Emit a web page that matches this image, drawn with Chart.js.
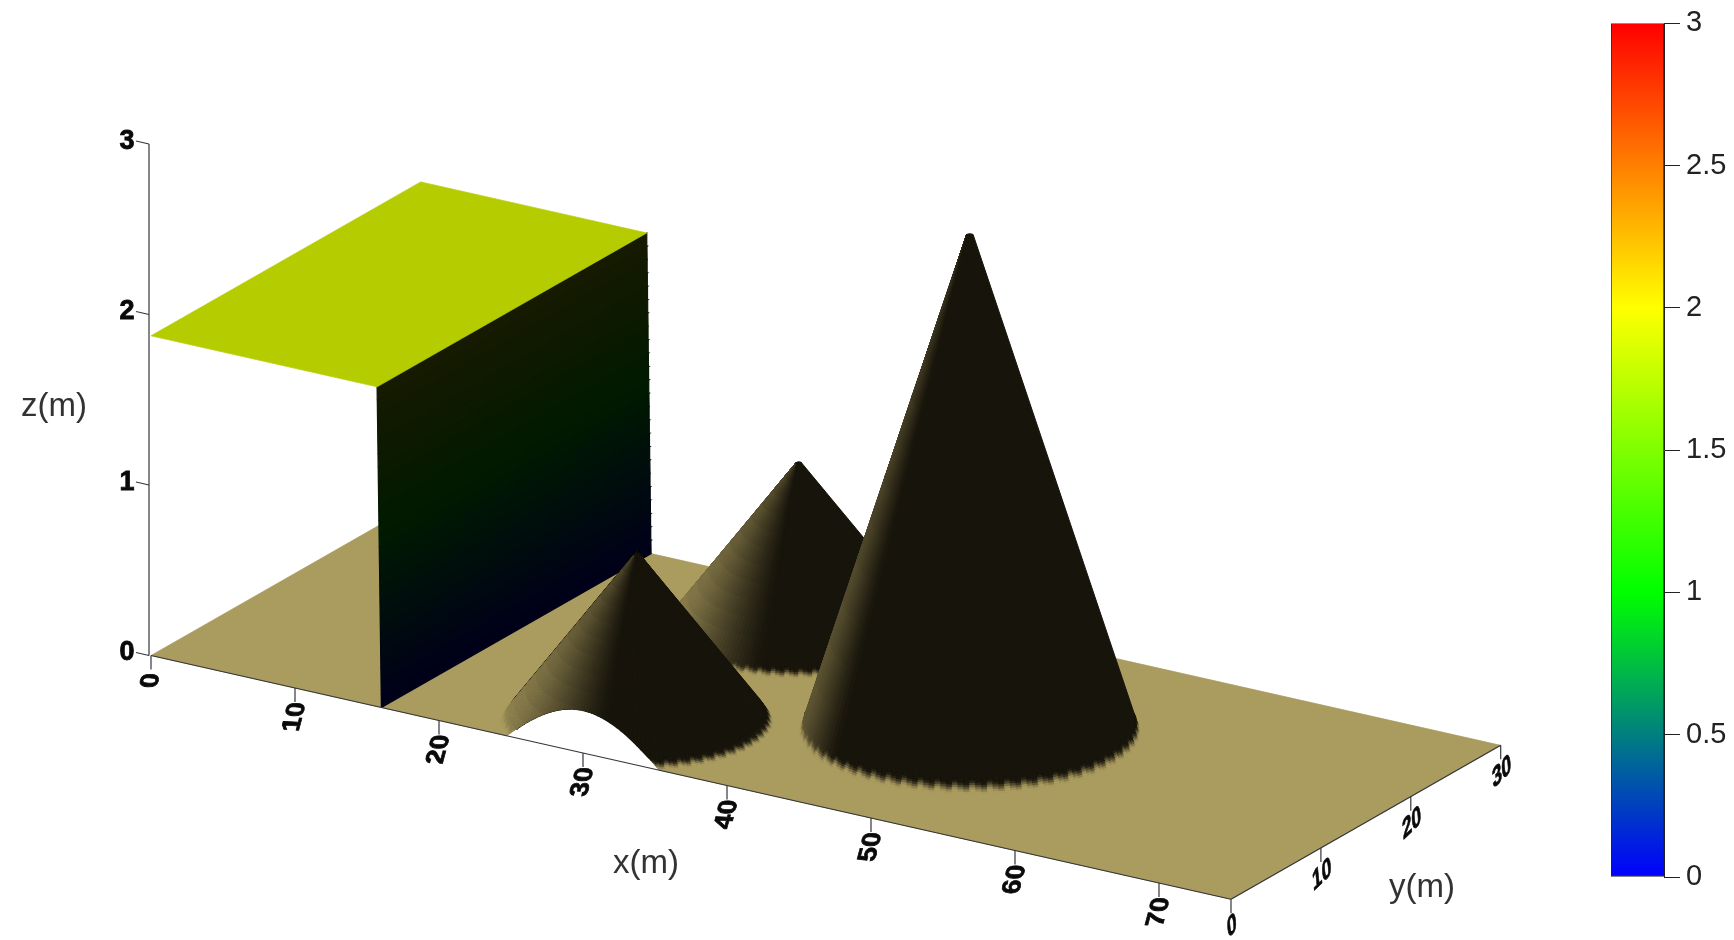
<!DOCTYPE html>
<html>
<head>
<meta charset="utf-8">
<style>
    html, body { margin: 0; padding: 0; background: #fff; overflow: hidden; }
    #main { position: absolute; left: 0; top: 0; width: 1734px; height: 940px; }
    #bar  { position: absolute; left: 1600px; top: 0; width: 134px; height: 940px; }
</style>
<script src="https://cdn.jsdelivr.net/npm/chart.js@4"></script>
</head>
<body>
<div id="main"><canvas id="surface"></canvas></div>
<div id="bar"><canvas id="colorbar"></canvas></div>
<script>
/* ─── values ──────────────────────────────────────────────────── */
const xTicks  = [0, 10, 20, 30, 40, 50, 60, 70];
const yTicks  = [0, 10, 20, 30];
const zTicks  = [0, 1, 2, 3];
const xMax    = 75;
const yMax    = 30;

const damFoot  = 16;      /* x of the wall where it meets the floor */
const damTop   = 15.7;    /* x of the wall at the plate */
const damLevel = 1.875;

const bumpX = [30, 30, 47.5];
const bumpY = [24, 6, 15];   /* far one first, they are painted in this order */
const bumpR = [8, 8, 10];
const bumpH = [1, 1, 2.98];

const barTicks  = [0, 0.5, 1, 1.5, 2, 2.5, 3];
const barStops  = [0, 1, 2, 3];
const barColors = ['#0000ff', '#00ff00', '#ffff00', '#ff0000'];

/* ─── view ────────────────────────────────────────────────────── */
const ORIGIN = { x: 151, y: 655.5 };
const UX = { x: 14.4, y: 3.25 };
const UY = { x: 8.99, y: -5.13 };
const UZ = { x: 0, y: -170.5 };

const project = (x, y, z) => ({
    x: ORIGIN.x + x * UX.x + y * UY.x + z * UZ.x,
    y: ORIGIN.y + x * UX.y + y * UY.y + z * UZ.y,
});

/* ─── colours ─────────────────────────────────────────────────── */
const FLOOR = [170, 155, 95];
const DARK  = [23, 20, 11];
const PLATE = '#b5cc00';
const AXIS  = '#33363c';

const rgb = c => `rgb(${c.map(v => Math.round(v)).join(',')})`;
const mix = (a, b, t) => a.map((v, i) => v + (b[i] - v) * t);

function colorMap(z) {
    const rgbStops = [[0, 0, 255], [0, 255, 0], [255, 255, 0], [255, 0, 0]];
    const k = Math.min(2, Math.floor(z));
    return mix(rgbStops[k], rgbStops[k + 1], z - k);
}

/* ─── polygons → datasets ─────────────────────────────────────── */
const datasets = [];

function addPoly(points, color, edge = 1) {
    const data = points.map(p => project(p[0], p[1], p[2]));
    data.push(data[0]);
    datasets.push({
        data, showLine: true, fill: 'shape', pointRadius: 0,
        backgroundColor: color, borderColor: color, borderWidth: edge,
    });
}

function addLine(a, b) {
    datasets.push({
        data: [a, b], showLine: true, fill: false, pointRadius: 0,
        borderColor: AXIS, borderWidth: 1.2,
    });
}

/* keep the part of a facet that lies on the y >= 0 side of the domain */
function clipToDomain(poly) {
    const out = [];
    poly.forEach((p, i) => {
        const q = poly[(i + 1) % poly.length];
        if (p[1] >= 0) out.push(p);
        if ((p[1] >= 0) !== (q[1] >= 0)) {
            const t = p[1] / (p[1] - q[1]);
            out.push([p[0] + (q[0] - p[0]) * t, 0, p[2] + (q[2] - p[2]) * t]);
        }
    });
    return out;
}

/* ── Floor, with the foot of the cut bump left open ──────────────── */
function addFloor() {
    const cx = bumpX[1], cy = bumpY[1], r = bumpR[1];
    const half = Math.sqrt(r * r - cy * cy);
    const start = Math.atan2(-cy, -half);
    const end = Math.atan2(-cy, half);
    const pts = [[0, 0, 0]];
    const steps = 60;
    const sweep = (end - start + Math.PI * 2) % (Math.PI * 2) - Math.PI * 2;
    for (let i = 0; i <= steps; i++) {
        const a = start + sweep * i / steps;
        pts.push([cx + r * Math.cos(a), cy + r * Math.sin(a), 0]);
    }
    pts.push([xMax, 0, 0], [xMax, yMax, 0], [0, yMax, 0]);
    addPoly(pts, rgb(FLOOR), 0.7);
}

/* ── Wall and the water plate behind it ──────────────────────────── */
function addDam() {
    const bands = 24;
    for (let i = 0; i < bands; i++) {
        const z0 = damLevel * i / bands, z1 = damLevel * (i + 1) / bands;
        const x0 = damFoot + (damTop - damFoot) * i / bands;
        const x1 = damFoot + (damTop - damFoot) * (i + 1) / bands;
        const c = colorMap((z0 + z1) / 2).map(v => v * 0.1);
        addPoly([[x0, 0, z0], [x0, yMax, z0], [x1, yMax, z1], [x1, 0, z1]], rgb(c), 1.2);
    }
    addPoly([[0, 0, damLevel], [damTop, 0, damLevel], [damTop, yMax, damLevel], [0, yMax, damLevel]], PLATE, 0.7);
}

/* ── Bumps ───────────────────────────────────────────────────────── */
const INNER_RINGS = [0.9, 0.82, 0.74, 0.66, 0.58, 0.5, 0.42, 0.34, 0.26, 0.18, 0.1, 0.02];
const RIM_STEPS = 7;
const RIM_WIDTH = [0.04, 0.04, 0.02];
const SLICES    = 180;
const LIT_WIDTH = [0.72, 0.72, 0.2];
const LIT_MAX   = [0.85, 0.85, 0.5];

const viewAngle = Math.atan2(UY.x, UX.x);

function litAmount(k, phi, frac) {
    const s = Math.cos(phi - viewAngle);
    const edge = -1 + LIT_WIDTH[k];
    const t = Math.max(0, Math.min(1, (edge - s) / LIT_WIDTH[k]));
    return LIT_MAX[k] * Math.pow(t, 1.25) * (0.35 + 0.65 * frac);
}

function rimFade(k, frac, slice) {
    const jag = [0, 0.3, 0.12][slice % 3];
    const x = Math.max(0, Math.min(1, (1 - frac) / RIM_WIDTH[k] - jag));
    return x * x * (3 - 2 * x);
}

function addBump(k) {
    const cx = bumpX[k], cy = bumpY[k], R = bumpR[k], H = bumpH[k];
    const at = (f, a) => [cx + R * f * Math.cos(a), cy + R * f * Math.sin(a), H * (1 - f)];
    const facing = a => {
        const p = [at(1, a), at(1, a + 0.01), at(0.5, a + 0.01)].map(q => project(q[0], q[1], q[2]));
        return (p[1].x - p[0].x) * (p[2].y - p[0].y) - (p[1].y - p[0].y) * (p[2].x - p[0].x) < 0;
    };

    const rings = [];
    for (let m = 0; m <= RIM_STEPS; m++) rings.push(1 - RIM_WIDTH[k] * 1.4 * m / RIM_STEPS);
    rings.push(...INNER_RINGS);
    const tipFrac = rings[rings.length - 1];
    const bodyFrac = rings[RIM_STEPS];

    /* dark body under the facets */
    if (cy < R) {
        /* cut by the domain edge: wedge by wedge so the cut follows y = 0 */
        for (let i = 0; i < SLICES; i++) {
            const a0 = i / SLICES * Math.PI * 2, a1 = (i + 1) / SLICES * Math.PI * 2;
            if (!facing((a0 + a1) / 2)) continue;
            const poly = clipToDomain([at(bodyFrac, a0), at(bodyFrac, a1), at(tipFrac, a1), at(tipFrac, a0)]);
            if (poly.length >= 3) addPoly(poly, rgb(DARK), 1.5);
        }
    } else {
        const body = [at(tipFrac, viewAngle + Math.PI)];
        const back = Math.atan2(-UY.y, -UX.y);
        for (let i = 0; i <= SLICES; i++) {
            const a = back + i / SLICES * Math.PI * 2;
            if (facing(a)) body.push(at(bodyFrac, a));
        }
        body.push(at(tipFrac, viewAngle));
        addPoly(body, rgb(DARK));
    }

    /* rim fade and the lit flank, one facet at a time */
    for (let j = 0; j < rings.length - 1; j++) {
        const f0 = rings[j], f1 = rings[j + 1], mid = (f0 + f1) / 2;
        for (let i = 0; i < SLICES; i++) {
            const a0 = i / SLICES * Math.PI * 2, a1 = (i + 1) / SLICES * Math.PI * 2;
            const am = (a0 + a1) / 2;
            if (!facing(am)) continue;

            const lit = litAmount(k, am, mid), fade = rimFade(k, mid, i);
            if (j >= RIM_STEPS && lit === 0) continue;

            const poly = clipToDomain([at(f0, a0), at(f0, a1), at(f1, a1), at(f1, a0)]);
            if (poly.length < 3) continue;
            addPoly(poly, rgb(mix(FLOOR, mix(DARK, FLOOR, lit), fade)), 0.9);
        }
    }

    /* blunt tip */
    const tip = [];
    for (let i = 0; i < 24; i++) tip.push(at(tipFrac, i / 24 * Math.PI * 2));
    addPoly(tip, rgb(DARK));
}

/* ── Axes ────────────────────────────────────────────────────────── */
function addAxes() {
    const zAxis = v => {
        const p = project(0, 0, v);
        return { x: p.x - 2, y: p.y };
    };
    addLine(zAxis(0), zAxis(zTicks[zTicks.length - 1]));
    addLine(project(0, 0, 0), project(xMax, 0, 0));
    addLine(project(xMax, 0, 0), project(xMax, yMax, 0));

    xTicks.forEach(v => {
        const p = project(v, 0, 0);
        addLine(p, { x: p.x, y: p.y + 14 });
    });
    yTicks.forEach(v => {
        const p = project(xMax, v, 0);
        addLine(p, { x: p.x, y: p.y + 14 });
    });
    zTicks.forEach(v => {
        const p = zAxis(v);
        addLine(p, { x: p.x - 13, y: p.y - 3 });
    });
}

addFloor();
addDam();
bumpX.forEach((_, k) => addBump(k));
addAxes();
datasets.reverse();   /* Chart.js paints the first dataset last */

/* ── Tick labels and axis titles ─────────────────────────────────── */
const labelPlugin = {
    id: 'labels3d',
    afterDraw(chart) {
        const { ctx, scales } = chart;
        const px = p => ({ x: scales.x.getPixelForValue(p.x), y: scales.y.getPixelForValue(p.y) });

        const tick = (text, p, m) => {
            ctx.save();
            ctx.translate(p.x, p.y);
            ctx.transform(m[0], m[1], m[2], m[3], 0, 0);
            ctx.fillText(text, 0, 0);
            ctx.strokeText(text, 0, 0);
            ctx.restore();
        };

        ctx.save();
        ctx.fillStyle = '#0a0a0a';
        ctx.strokeStyle = '#0a0a0a';
        ctx.lineWidth = 0.8;
        ctx.textAlign = 'center';
        ctx.textBaseline = 'middle';
        ctx.font = 'bold 27px "Liberation Sans"';

        xTicks.forEach(v => {
            const p = px(project(v, 0, 0));
            tick(String(v), { x: p.x, y: p.y + (v === 0 ? 25 : 29) }, [0.26, -0.97, 0.95, 0.05]);
        });
        yTicks.forEach(v => {
            const p = px(project(xMax, v, 0));
            tick(String(v), { x: p.x + 1, y: p.y + 27 }, [0.62, -0.6, 0.1, 1]);
        });
        zTicks.forEach(v => {
            const p = px(project(0, 0, v));
            tick(String(v), { x: p.x - 24, y: p.y - 3 }, [1, 0, 0, 1.05]);
        });

        ctx.font = '33px "Liberation Sans"';
        ctx.fillStyle = '#333';
        ctx.fillText('z(m)', 54, 407);
        ctx.fillText('x(m)', 646, 864);
        ctx.fillText('y(m)', 1422, 888);
        ctx.restore();
    },
};

/* ── Surface chart ───────────────────────────────────────────────── */
new Chart(document.getElementById('surface'), {
    type: 'scatter',
    data: { datasets },
    plugins: [labelPlugin],
    options: {
        responsive: true,
        maintainAspectRatio: false,
        animation: false,
        events: [],
        layout: { padding: 0 },
        plugins: { legend: { display: false }, tooltip: { enabled: false } },
        scales: {
            x: { type: 'linear', display: false, min: 0, max: 1734 },
            y: { type: 'linear', display: false, min: 0, max: 940, reverse: true },
        },
    },
});

/* ── Colour bar ──────────────────────────────────────────────────── */
new Chart(document.getElementById('colorbar'), {
    type: 'bar',
    data: {
        labels: [''],
        datasets: [{
            data: [[barTicks[0], barTicks[barTicks.length - 1]]],
            barPercentage: 1,
            categoryPercentage: 1,
            borderColor: '#222',
            borderWidth: 1,
            borderSkipped: false,
            backgroundColor(c) {
                const { ctx, chartArea, scales } = c.chart;
                if (!chartArea) return barColors[0];
                const y0 = scales.y.getPixelForValue(barStops[0]);
                const y1 = scales.y.getPixelForValue(barStops[barStops.length - 1]);
                const g = ctx.createLinearGradient(0, y0, 0, y1);
                barStops.forEach((v, i) => g.addColorStop((v - barStops[0]) / (barStops[barStops.length - 1] - barStops[0]), barColors[i]));
                return g;
            },
        }],
    },
    options: {
        responsive: true,
        maintainAspectRatio: false,
        animation: false,
        events: [],
        layout: { padding: { left: 11, top: 22, bottom: 63, right: 0 } },
        plugins: { legend: { display: false }, tooltip: { enabled: false } },
        scales: {
            x: { display: false },
            y: {
                position: 'right',
                min: 0,
                max: 3,
                afterFit(scale) { scale.width = 70; },
                afterBuildTicks(scale) { scale.ticks = barTicks.map(value => ({ value })); },
                grid: { drawOnChartArea: false, drawTicks: true, tickLength: 16, color: '#222' },
                border: { color: '#222' },
                ticks: {
                    padding: 6,
                    color: '#222',
                    font: { family: '"Liberation Sans"', size: 29 },
                    callback: v => String(v),
                },
            },
        },
    },
});
</script>
</body>
</html>
